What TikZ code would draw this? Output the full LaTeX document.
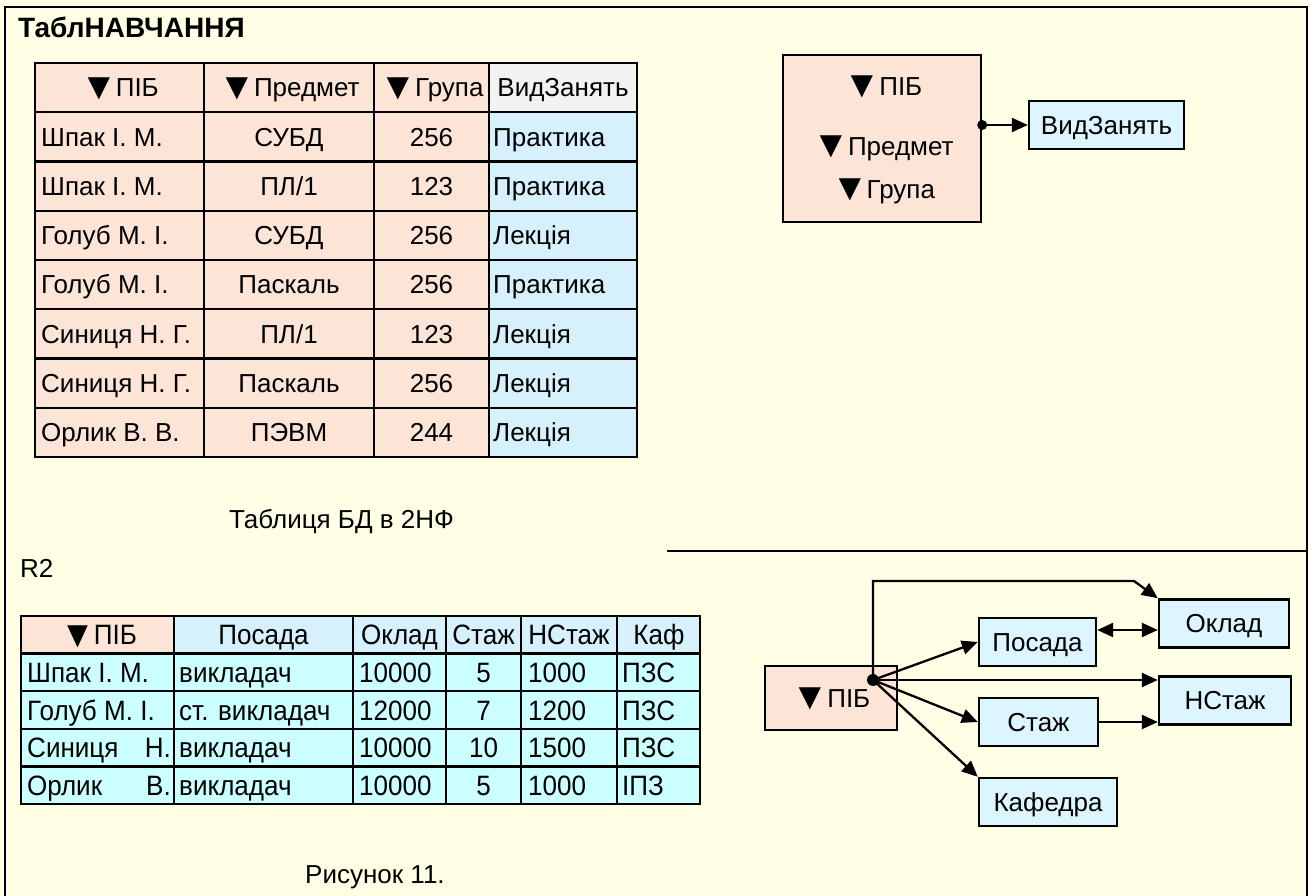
\documentclass[tikz,border=0pt]{standalone}
\usepackage{fontspec}
\setmainfont{Liberation Sans}
\newfontfamily\narrowfont{Liberation Sans}[FakeStretch=0.93]
\usetikzlibrary{arrows.meta,calc}

\definecolor{paper}{HTML}{FFFFE5}
\definecolor{pinkcell}{HTML}{FCE4D6}
\definecolor{skycell}{HTML}{D6F1FC}
\definecolor{graycell}{HTML}{F2F2F2}
\definecolor{cyancell}{HTML}{CCFFFF}
\definecolor{attrblue}{HTML}{DDF5FF}

% key attribute marker
\newcommand\keymark{\raisebox{-2.5pt}{\fontsize{38}{38}\selectfont ▼}\kern-2pt}

\begin{document}
\begin{tikzpicture}[x=1pt,y=-1pt,
  lbl/.style={inner sep=0pt, font=\fontsize{26}{30}\selectfont, text height=18.6pt, text depth=0pt},
  nlbl/.style={inner sep=0pt, font=\narrowfont\fontsize{28}{32}\selectfont, text height=20pt, text depth=0pt},
  rule/.style={line width=2.3pt, line cap=rect},
  boxed/.style={draw=black, line width=2.4pt, inner sep=0pt},
  keybox/.style={boxed, fill=pinkcell},
  attrbox/.style={boxed, fill=attrblue, minimum height=48pt},
  link/.style={line width=2.3pt, -{Triangle[length=16pt,width=14pt]}},
  twoway/.style={line width=2.3pt, {Triangle[length=16pt,width=14pt]}-{Triangle[length=16pt,width=14pt]}},
  dotmark/.style={circle, fill=black, inner sep=0pt, minimum size=#1},
  dotmark/.default=10pt
]

% page and outer frame
\fill[paper] (0,0) rectangle (1310,896);
\useasboundingbox (0,0) rectangle (1310,896);
\draw[line width=2.4pt] (5,900) -- (5,7) -- (1307,7) -- (1307,900);

\node[lbl, font=\bfseries\fontsize{28}{32}\selectfont, anchor=west] (title) at (18,28) {ТаблНАВЧАННЯ};

% ---------- table in 2NF ----------
\fill[pinkcell] (35,63) rectangle (489,457);
\fill[graycell] (489,63) rectangle (637,112.25);
\fill[skycell] (489,112.25) rectangle (637,457);
\foreach \x in {204,374,489} \draw[rule] (\x,63) -- (\x,457);
\foreach \k in {1,...,7} \draw[rule] (35,{63+49.25*\k}) -- (637,{63+49.25*\k});
\draw[rule] (35,63) rectangle (637,457);

\node[lbl] (ha) at (119.5,87.6) {\keymark ПІБ};
\node[lbl] (hb) at (289,87.6) {\keymark Предмет};
\node[lbl] (hc) at (431.5,87.6) {\keymark Група};
\node[lbl] (hd) at (563,87.6) {ВидЗанять};

\foreach [count=\r] \a/\b/\c/\d in {
  Шпак І. М./СУБД/256/Практика,
  Шпак І. М./{ПЛ/1}/123/Практика,
  Голуб М. І./СУБД/256/Лекція,
  Голуб М. І./Паскаль/256/Практика,
  Синиця Н. Г./{ПЛ/1}/123/Лекція,
  Синиця Н. Г./Паскаль/256/Лекція,
  Орлик В. В./ПЭВМ/244/Лекція} {
  \pgfmathsetmacro\yy{63+49.25*(\r+0.5)}
  \node[lbl, anchor=west] (ra\r) at (41,\yy) {\a};
  \node[lbl] (rb\r) at (289,\yy) {\b};
  \node[lbl] (rc\r) at (431.5,\yy) {\c};
  \node[lbl, anchor=west] (rd\r) at (493,\yy) {\d};
}

\node[lbl, anchor=west] (cap1) at (229,519) {Таблиця БД в 2НФ};

% ---------- dependency of the 2NF key ----------
\node[keybox, minimum width=198pt, minimum height=167pt] (key) at (882,138.5) {};
\node[lbl] (k1) at (883,86) {\keymark ПІБ};
\node[lbl] (k2) at (883,146) {\keymark Предмет};
\node[lbl] (k3) at (883,189) {\keymark Група};
\node[attrbox, minimum width=155pt, lbl] (vid) at (1106.5,125) {ВидЗанять};
\coordinate (kout) at (key.east |- vid.west);
\draw[link] (kout) -- (vid.west);
\node[dotmark] (kdot) at (kout) {};

% separator
\draw[line width=2.4pt] (667,551) -- (1307,551);

\node[lbl, anchor=west] (r2) at (20,568) {R2};

% ---------- relation R2 ----------
\fill[pinkcell] (21,616) rectangle (174,653.6);
\fill[skycell] (174,616) rectangle (700,653.6);
\fill[cyancell] (21,653.6) rectangle (700,804);
\foreach \x in {174,353,446,521,617} \draw[rule] (\x,616) -- (\x,804);
\foreach \k in {1,...,4} \draw[rule] (21,{616+37.6*\k}) -- (700,{616+37.6*\k});
\draw[rule] (21,616) rectangle (700,804);

\node[nlbl] (ga) at (99,634.8) {\keymark ПІБ};
\node[nlbl] (gb) at (263.5,634.8) {Посада};
\node[nlbl] (gc) at (399.5,634.8) {Оклад};
\node[nlbl] (gd) at (483.5,634.8) {Стаж};
\node[nlbl] (ge) at (569,634.8) {НСтаж};
\node[nlbl] (gf) at (659,634.8) {Каф};

\node[nlbl, anchor=west] (sa1) at (27,672.4) {Шпак І. М.};
\node[nlbl, anchor=west] (sa2) at (27,710) {Голуб М. І.};
\node[nlbl, anchor=west] (sa3) at (27,747.6) {Синиця};
\node[nlbl, anchor=east] (sn3) at (171,747.6) {Н.};
\node[nlbl, anchor=west] (sa4) at (27,785.2) {Орлик};
\node[nlbl, anchor=east] (sn4) at (171,785.2) {В.};

\foreach [count=\r] \b/\c/\d/\e/\f in {
  викладач/10000/5/1000/ПЗС,
  ст. викладач/12000/7/1200/ПЗС,
  викладач/10000/10/1500/ПЗС,
  викладач/10000/5/1000/ІПЗ} {
  \pgfmathsetmacro\yy{616+37.6*(\r+0.5)}
  \node[nlbl, anchor=west] (sb\r) at (179,\yy) {\b};
  \node[nlbl, anchor=west] (sc\r) at (359,\yy) {\c};
  \node[nlbl] (sd\r) at (483.5,\yy) {\d};
  \node[nlbl, anchor=west] (se\r) at (528,\yy) {\e};
  \node[nlbl, anchor=west] (sf\r) at (622,\yy) {\f};
}

\node[lbl, anchor=west] (cap2) at (305,874) {Рисунок 11.};

% ---------- dependencies in R2 ----------
\node[keybox, minimum width=132pt, minimum height=64pt, lbl] (pib) at (831,698) {\keymark ПІБ};
\node[attrbox, minimum width=117pt, lbl] (posada) at (1037.5,642) {Посада};
\node[attrbox, minimum width=130pt, lbl] (oklad) at (1224,623.5) {Оклад};
\node[attrbox, minimum width=132pt, lbl] (nstazh) at (1225,700.5) {НСтаж};
\node[attrbox, minimum width=119pt, lbl] (stazh) at (1038.5,722) {Стаж};
\node[attrbox, minimum width=138pt, lbl] (kaf) at (1048,802) {Кафедра};

\coordinate (hub) at (873,680);
\coordinate (bend) at (1134,581);
\coordinate (pe) at ([yshift=12pt]posada.east);

\draw[link] (hub) -- (hub |- bend) -- (bend) -- (oklad.north west);
\draw[link] (hub) -- (posada.west);
\draw[link] (hub) -- (hub -| nstazh.west);
\draw[link] (hub) -- (stazh.west);
\draw[link] (hub) -- (kaf.north west);
\draw[twoway] (pe) -- (pe -| oklad.west);
\draw[link] (stazh.east) -- (stazh.east -| nstazh.west);
\node[dotmark=12pt] (hubdot) at (hub) {};

\end{tikzpicture}
\end{document}
